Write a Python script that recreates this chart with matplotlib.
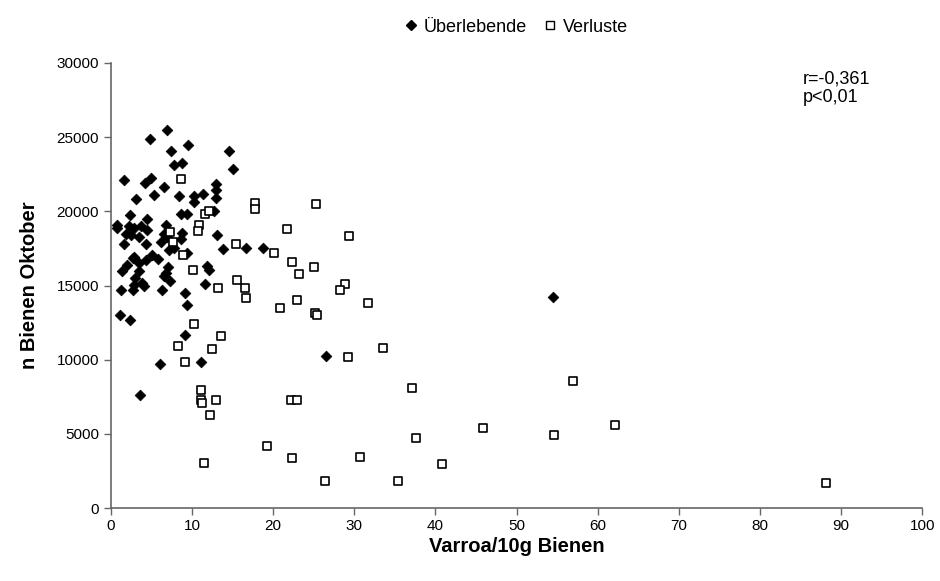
import matplotlib
matplotlib.use("Agg")
import matplotlib.pyplot as plt
from matplotlib.lines import Line2D

plt.rcParams['font.family'] = ['Liberation Sans', 'DejaVu Sans']

# Überlebende Völker: Varroa/10g Bienen und Bienen im Oktober
surv_x = [6.9, 4.8, 9.5, 7.4, 14.6, 7.8, 8.8, 15.0, 1.6, 4.2, 5.0, 6.5, 3.1, 5.3,
          8.4, 10.2, 10.3, 11.3, 13.0, 13.0, 12.9, 12.7, 8.7, 9.4, 2.3, 4.4, 0.7,
          0.7, 2.2, 2.8, 3.7, 4.4, 1.8, 2.5, 3.4, 6.8, 6.6, 6.9, 8.8, 8.7, 13.1,
          1.6, 4.3, 6.2, 7.1, 7.8, 9.4, 13.8, 16.6, 18.8, 2.9, 2.7, 4.3, 5.1, 5.8,
          3.4, 3.5, 2.0, 1.4, 7.0, 6.8, 6.6, 7.3, 11.9, 12.1, 6.3, 11.6, 9.1,
          9.4, 3.0, 3.8, 2.9, 4.1, 2.7, 1.2, 1.1, 2.3, 9.1, 11.1, 6.0, 3.6, 26.5,
          54.5]
surv_y = [25500, 24850, 24500, 24050, 24100, 23100, 23250, 22850, 22100, 21900,
          22250, 21650, 20800, 21100, 21000, 21050, 20600, 21200, 21850, 21450,
          20900, 20050, 19850, 19850, 19750, 19500, 19050, 18900, 19000, 18900,
          19000, 18750, 18500, 18400, 18300, 19100, 18500, 18250, 18550, 18150,
          18400, 17800, 17800, 17900, 17400, 17500, 17200, 17450, 17500, 17500,
          16950, 16850, 16700, 17050, 16800, 16500, 15950, 16350, 16000, 16250,
          15850, 15650, 15300, 16300, 16050, 14700, 15100, 14500, 13700, 15500,
          15200, 15050, 14950, 14700, 14700, 13000, 12650, 11650, 9850, 9700,
          7650, 10250, 14250]

# Verluste
loss_x = [8.7, 17.7, 17.8, 25.3, 11.6, 12.1, 10.8, 10.7, 21.7, 29.4, 7.3, 7.7,
          15.4, 20.1, 8.9, 22.3, 25.0, 23.2, 10.1, 28.8, 28.3, 15.5, 16.5, 13.2,
          16.6, 22.9, 31.7, 20.8, 25.2, 25.4, 10.2, 13.6, 8.3, 12.4, 9.1, 29.2,
          33.6, 37.1, 57.0, 11.1, 11.1, 11.2, 12.9, 12.2, 22.2, 22.9, 45.9, 54.6,
          62.2, 37.6, 19.2, 22.3, 11.5, 30.7, 40.8, 26.4, 35.4, 88.1]
loss_y = [22150, 20550, 20150, 20500, 19850, 20000, 19050, 18700, 18800, 18350,
          18600, 17950, 17800, 17200, 17050, 16600, 16250, 15750, 16050, 15100,
          14700, 15350, 14850, 14800, 14150, 14000, 13800, 13450, 13150, 13000,
          12400, 11600, 10900, 10750, 9850, 10200, 10800, 8100, 8550, 7950, 7300,
          7100, 7300, 6300, 7300, 7300, 5400, 4900, 5600, 4750, 4200, 3350, 3050,
          3450, 3000, 1850, 1800, 1700]

fig = plt.figure(figsize=(9.4, 5.81), dpi=100)
ax = fig.add_axes([0.118, 0.1256, 0.863, 0.766])

ax.scatter(surv_x, surv_y, marker='D', s=30, c='black', edgecolors='black',
           linewidths=0.5, zorder=3)
ax.scatter(loss_x, loss_y, marker='s', s=32, facecolors='white',
           edgecolors='black', linewidths=1.2, zorder=3)

ax.set_xlim(0, 100)
ax.set_ylim(0, 30000)
ax.set_xticks(range(0, 101, 10))
ax.set_yticks(range(0, 30001, 5000))
ax.tick_params(axis='both', labelsize=11, direction='out', length=5,
               color='#666666', width=1)
ax.tick_params(axis='x', pad=3)
for side in ('top', 'right'):
    ax.spines[side].set_visible(False)
for side in ('left', 'bottom'):
    ax.spines[side].set_color('#666666')
    ax.spines[side].set_linewidth(1.2)

ax.set_xlabel('Varroa/10g Bienen', fontsize=14.5, fontweight='bold', labelpad=3)
ax.set_ylabel('n Bienen Oktober', fontsize=14.5, fontweight='bold', labelpad=13)

ax.text(0.853, 0.984, 'r=-0,361\np<0,01', transform=ax.transAxes,
        fontsize=13, va='top', ha='left', linespacing=1.15)

handles = [
    Line2D([], [], marker='D', color='black', linestyle='none', markersize=5),
    Line2D([], [], marker='s', markerfacecolor='white', markeredgecolor='black',
           linestyle='none', markersize=6, markeredgewidth=1.0),
]
fig.legend(handles, ['Überlebende', 'Verluste'], loc='center',
           bbox_to_anchor=(0.549, 0.953), ncol=2, frameon=False, fontsize=13,
           handletextpad=0.3, columnspacing=0.9, handlelength=0.8)

fig.savefig('out.png', dpi=100)
